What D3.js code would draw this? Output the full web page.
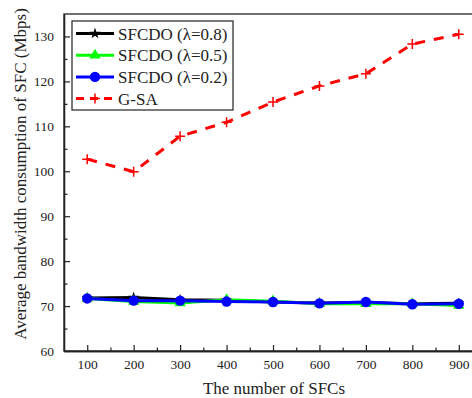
<!DOCTYPE html>
<html>
<head>
<meta charset="utf-8">
<script src="https://d3js.org/d3.v7.min.js"></script>
<style>
  body { margin: 0; background: #fff; }
  text { font-family: "Liberation Serif", "Times New Roman", serif; fill: #222; }
</style>
</head>
<body>
<div id="chart"></div>
<script>
// values
var sfcCounts = [100, 200, 300, 400, 500, 600, 700, 800, 900];
var lambda08 = [71.8, 71.9, 71.4, 71.3, 70.9, 70.7, 70.8, 70.5, 70.6];
var lambda05 = [71.7, 71.0, 70.7, 71.4, 71.1, 70.5, 70.5, 70.5, 70.1];
var lambda02 = [71.7, 71.2, 71.2, 71.0, 70.9, 70.6, 70.9, 70.4, 70.5];
var gsa = [102.7, 99.9, 107.8, 110.9, 115.4, 119.0, 121.7, 128.3, 130.5];
var xTicks = [100, 200, 300, 400, 500, 600, 700, 800, 900];
var yTicks = [60, 70, 80, 90, 100, 110, 120, 130];

var series = [
	{name: "SFCDO (\u03bb=0.8)", values: lambda08, color: "#000000", marker: "star"},
	{name: "SFCDO (\u03bb=0.5)", values: lambda05, color: "#00ff00", marker: "triangle"},
	{name: "SFCDO (\u03bb=0.2)", values: lambda02, color: "#0000ff", marker: "circle"},
	{name: "G-SA", values: gsa, color: "#ff0000", marker: "plus", dash: "10,9"}
];

var W = 472, H = 398;
var margin = {top: 14, left: 64, right: -10, bottom: 47};
var width = W - margin.left - margin.right;
var height = H - margin.top - margin.bottom;

var svg = d3.select("#chart").append("svg")
	.attr("width", W)
	.attr("height", H);
var g = svg.append("g")
	.attr("transform", "translate(" + margin.left + "," + margin.top + ")");

var x = d3.scaleLinear().domain([50, 950]).range([0, width]);
var y = d3.scaleLinear().domain([60, 135]).range([height, 0]);

// frame
g.append("rect")
	.attr("width", width).attr("height", height)
	.attr("fill", "none").attr("stroke", "#222").attr("stroke-width", 1.3);

// axes with inward ticks
g.append("g")
	.attr("transform", "translate(0," + height + ")")
	.call(d3.axisBottom(x).tickValues(xTicks).tickSizeInner(-6).tickSizeOuter(0).tickPadding(8));
g.append("g")
	.attr("transform", "translate(0," + height + ")")
	.call(d3.axisBottom(x).tickValues(d3.range(150, 950, 100)).tickSizeInner(-3.5).tickSizeOuter(0).tickFormat(""));
g.append("g")
	.call(d3.axisLeft(y).tickValues(yTicks).tickSizeInner(-6).tickSizeOuter(0).tickPadding(10));
g.append("g")
	.call(d3.axisLeft(y).tickValues(d3.range(65, 135, 10)).tickSizeInner(-3.5).tickSizeOuter(0).tickFormat(""));

g.selectAll(".domain").attr("stroke", "#222").attr("stroke-width", 1.3);
g.selectAll(".tick line").attr("stroke", "#222").attr("stroke-width", 1.2);
g.selectAll(".tick text").style("font-size", "13.5px").attr("fill", "#222");

// axis titles
svg.append("text")
	.attr("x", 274).attr("y", 394)
	.attr("text-anchor", "middle")
	.style("font-size", "17px")
	.text("The number of SFCs");
svg.append("text")
	.attr("transform", "translate(26," + 174 + ") rotate(-90)")
	.attr("text-anchor", "middle")
	.style("font-size", "17px")
	.text("Average bandwidth consumption of SFC (Mbps)");

function drawMarker(sel, type, color) {
	if (type == "circle") {
		sel.append("circle").attr("r", 5.2).attr("fill", color);
	}
	else if (type == "triangle") {
		sel.append("path").attr("d", d3.symbol().type(d3.symbolTriangle).size(55)).attr("fill", color);
	}
	else if (type == "star") {
		sel.append("path").attr("d", d3.symbol().type(d3.symbolStar).size(40)).attr("fill", color);
	}
	else {
		sel.append("path").attr("d", "M-5,0H5M0,-5V5")
			.attr("stroke", color).attr("stroke-width", 1.5).attr("fill", "none");
	}
}

var line = d3.line()
	.x(function(d, i) { return x(sfcCounts[i]); })
	.y(function(d) { return y(d); });

series.forEach(function(s) {
	g.append("path")
		.datum(s.values)
		.attr("d", line)
		.attr("fill", "none")
		.attr("stroke", s.color)
		.attr("stroke-width", 3)
		.attr("stroke-dasharray", s.dash || null);
	g.selectAll(null)
		.data(s.values)
		.enter()
		.append("g")
		.attr("transform", function(d, i) { return "translate(" + x(sfcCounts[i]) + "," + y(d) + ")"; })
		.each(function() { drawMarker(d3.select(this), s.marker, s.color); });
});

// legend
var legend = svg.append("g").attr("transform", "translate(72,21)");
legend.append("rect")
	.attr("width", 161).attr("height", 89)
	.attr("fill", "#fff").attr("stroke", "#222").attr("stroke-width", 1.2);
series.forEach(function(s, i) {
	var row = legend.append("g").attr("transform", "translate(0," + (12.5 + i * 21.7) + ")");
	row.append("line")
		.attr("x1", 4).attr("x2", 42)
		.attr("stroke", s.color).attr("stroke-width", 3)
		.attr("stroke-dasharray", s.dash ? "8,6" : null);
	drawMarker(row.append("g").attr("transform", "translate(23,0)"), s.marker, s.color);
	row.append("text")
		.attr("x", 46).attr("y", 6)
		.style("font-size", "17px")
		.text(s.name);
});
</script>
</body>
</html>
